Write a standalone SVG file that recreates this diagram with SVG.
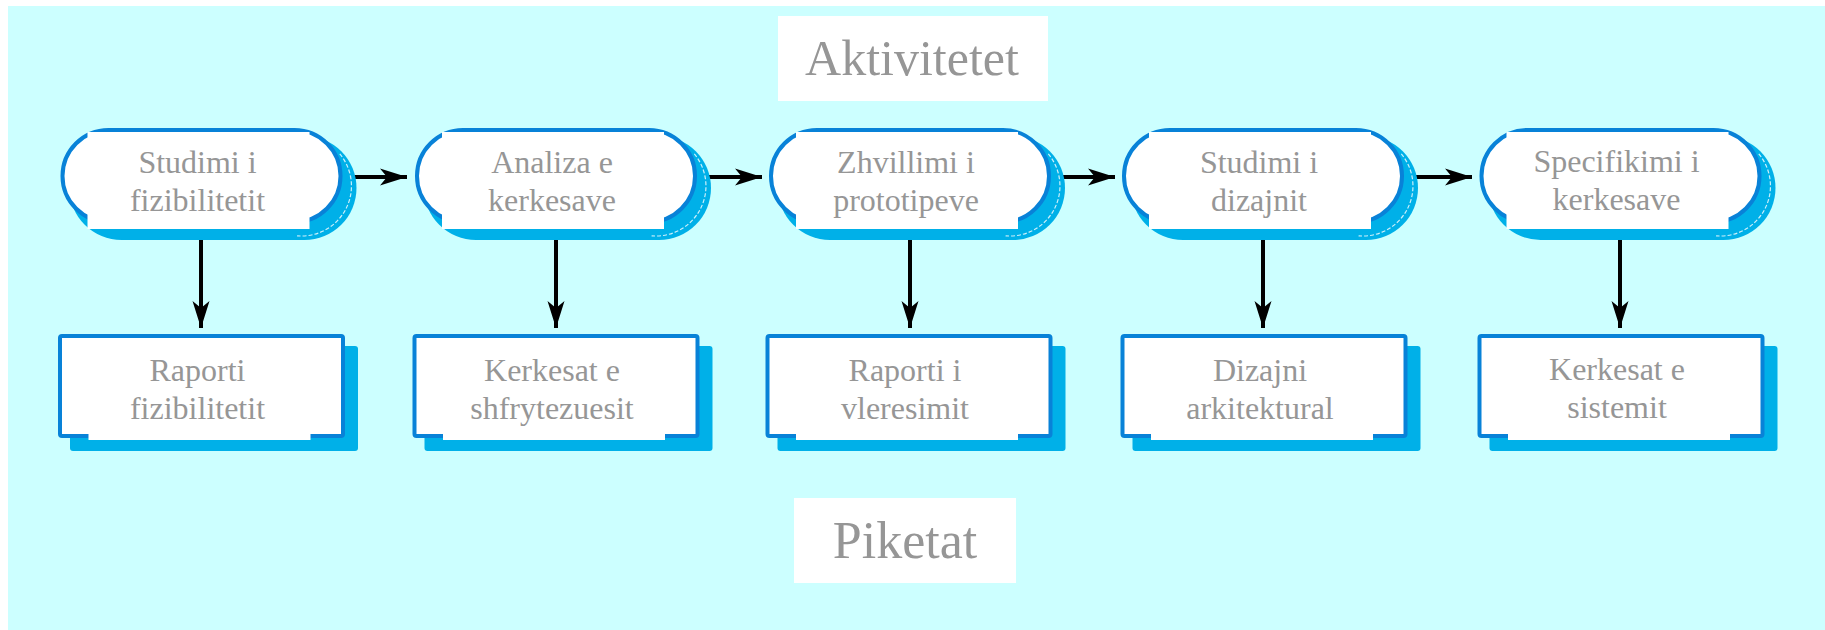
<svg xmlns="http://www.w3.org/2000/svg" xmlns:xlink="http://www.w3.org/1999/xlink" width="1825" height="630" viewBox="0 0 1825 630">
  <style>
    .lbl { font-family: "Liberation Serif", "Times New Roman", serif; font-size: 32px; fill: #969696; text-anchor: middle; }
    .title { font-family: "Liberation Serif", "Times New Roman", serif; fill: #969696; text-anchor: middle; }
    .shadow { fill: #00b0e8; }
    .outline { fill: #ffffff; stroke: #0882d8; stroke-width: 4; }
    .cover { fill: #ffffff; }
    .conn { stroke: #000000; stroke-width: 4; fill: none; }
    .head { fill: #000000; }
  </style>
  <defs>
    <!-- activity pill, centred on x = 0 -->
    <g id="pill">
      <rect class="shadow" x="-132" y="136" width="287" height="104" rx="52"/>
      <path d="M 138.3 153.9 A 50 50 0 0 1 95.6 235.8" fill="none" stroke="#ffffff" stroke-width="1.2" stroke-dasharray="4 2" opacity="0.8"/>
      <rect class="outline" x="-139" y="130" width="278" height="92" rx="46"/>
      <rect class="cover" x="-114" y="132" width="222" height="97"/>
    </g>
    <!-- deliverable box, centred on x = 0 -->
    <g id="box">
      <rect class="shadow" x="-131.5" y="346" width="288" height="105" rx="3"/>
      <rect class="outline" x="-141.5" y="336" width="283" height="100" rx="2"/>
      <rect class="cover" x="-113" y="340" width="222" height="100"/>
    </g>
    <marker id="arrow" markerUnits="userSpaceOnUse" markerWidth="30" markerHeight="20" viewBox="-28 -9 30 18" refX="0" refY="0" orient="auto">
      <path class="head" d="M 0 0 L -27 -8.5 L -20 0 L -27 8.5 Z"/>
    </marker>
  </defs>

  <!-- page background -->
  <rect x="0" y="0" width="1825" height="630" fill="#ffffff"/>
  <rect x="8" y="6" width="1817" height="624" fill="#ccffff"/>

  <!-- headings -->
  <g id="heading-activities">
    <rect x="778" y="16" width="270" height="85" fill="#ffffff"/>
    <text class="title" x="912" y="75" font-size="50">Aktivitetet</text>
  </g>
  <g id="heading-milestones">
    <rect x="794" y="498" width="222" height="85" fill="#ffffff"/>
    <text class="title" x="905" y="558" font-size="52">Piketat</text>
  </g>

  <!-- connectors -->
  <g id="connectors">
    <line class="conn" x1="342" y1="177" x2="407" y2="177" marker-end="url(#arrow)"/>
    <line class="conn" x1="697" y1="177" x2="762" y2="177" marker-end="url(#arrow)"/>
    <line class="conn" x1="1051" y1="177" x2="1115" y2="177" marker-end="url(#arrow)"/>
    <line class="conn" x1="1404" y1="177" x2="1472" y2="177" marker-end="url(#arrow)"/>

    <line class="conn" x1="201" y1="229" x2="201" y2="328" marker-end="url(#arrow)"/>
    <line class="conn" x1="556" y1="229" x2="556" y2="328" marker-end="url(#arrow)"/>
    <line class="conn" x1="910" y1="229" x2="910" y2="328" marker-end="url(#arrow)"/>
    <line class="conn" x1="1263" y1="229" x2="1263" y2="328" marker-end="url(#arrow)"/>
    <line class="conn" x1="1620" y1="229" x2="1620" y2="328" marker-end="url(#arrow)"/>
  </g>

  <!-- activities -->
  <g id="activity-1">
    <use xlink:href="#pill" href="#pill" x="201.5"/>
    <text class="lbl" x="197.5" y="173">Studimi i</text>
    <text class="lbl" x="197.5" y="211">fizibilitetit</text>
  </g>
  <g id="activity-2">
    <use xlink:href="#pill" href="#pill" x="556"/>
    <text class="lbl" x="552" y="173">Analiza e</text>
    <text class="lbl" x="552" y="211">kerkesave</text>
  </g>
  <g id="activity-3">
    <use xlink:href="#pill" href="#pill" x="910"/>
    <text class="lbl" x="906" y="173">Zhvillimi i</text>
    <text class="lbl" x="906" y="211">prototipeve</text>
  </g>
  <g id="activity-4">
    <use xlink:href="#pill" href="#pill" x="1263"/>
    <text class="lbl" x="1259" y="173">Studimi i</text>
    <text class="lbl" x="1259" y="211">dizajnit</text>
  </g>
  <g id="activity-5">
    <use xlink:href="#pill" href="#pill" x="1620.5"/>
    <text class="lbl" x="1616.5" y="172">Specifikimi i</text>
    <text class="lbl" x="1616.5" y="210">kerkesave</text>
  </g>

  <!-- milestones -->
  <g id="milestone-1">
    <use xlink:href="#box" href="#box" x="201.5"/>
    <text class="lbl" x="197.5" y="381">Raporti</text>
    <text class="lbl" x="197.5" y="419">fizibilitetit</text>
  </g>
  <g id="milestone-2">
    <use xlink:href="#box" href="#box" x="556"/>
    <text class="lbl" x="552" y="381">Kerkesat e</text>
    <text class="lbl" x="552" y="419">shfrytezuesit</text>
  </g>
  <g id="milestone-3">
    <use xlink:href="#box" href="#box" x="909"/>
    <text class="lbl" x="905" y="381">Raporti i</text>
    <text class="lbl" x="905" y="419">vleresimit</text>
  </g>
  <g id="milestone-4">
    <use xlink:href="#box" href="#box" x="1264"/>
    <text class="lbl" x="1260" y="381">Dizajni</text>
    <text class="lbl" x="1260" y="419">arkitektural</text>
  </g>
  <g id="milestone-5">
    <use xlink:href="#box" href="#box" x="1621"/>
    <text class="lbl" x="1617" y="380">Kerkesat e</text>
    <text class="lbl" x="1617" y="418">sistemit</text>
  </g>
</svg>
